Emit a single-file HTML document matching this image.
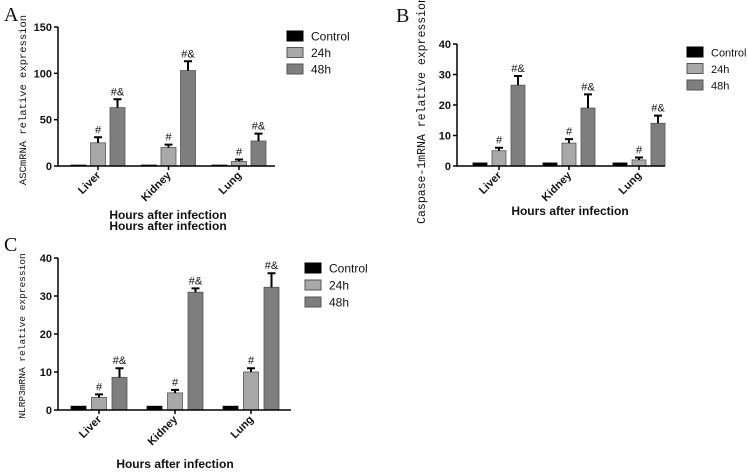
<!DOCTYPE html>
<html><head><meta charset="utf-8"><style>
body{margin:0;background:#fff;}
svg{display:block;}
.tk{font:bold 11px "Liberation Sans",sans-serif;fill:#111;}
.yl{font:11px "Liberation Mono","Noto Serif CJK SC",monospace;fill:#111;}
.lg{font:12px "Liberation Sans",sans-serif;fill:#111;}
.ttl{font:bold 12px "Liberation Sans",sans-serif;fill:#111;}
.pl{font:20px "Liberation Serif",serif;fill:#111;}
.an{font:11px "Liberation Sans",sans-serif;fill:#111;}
</style></head><body>
<svg id="c" width="748" height="472" xmlns="http://www.w3.org/2000/svg"></svg>
<script>
const categories=["Liver","Kidney","Lung"];
const seriesNames=["Control","24h","48h"];
const aValues=[[1,25,63],[1,20,103],[1,5,27]];
const aErrors=[[0,6,9],[0,3,10],[0,2,8]];
const aMarks=[["","#","#&"],["","#","#&"],["","#","#&"]];
const aTicks=[0,50,100,150];
const bValues=[[1,5,26.5],[1,7.5,19],[1,2,14]];
const bErrors=[[0,1,3],[0,1.3,4.5],[0,0.8,2.5]];
const bTicks=[0,10,20,30,40];
const cValues=[[1,3.3,8.6],[1,4.5,31],[1,10,32.3]];
const cErrors=[[0,0.8,2.4],[0,0.8,1],[0,1,3.7]];
const cTicks=[0,10,20,30,40];
const colors=["#000","#a8a8a8","#7e7e7e"];
const NS="http://www.w3.org/2000/svg";
const svg=document.getElementById('c');
function mk(t,a,p){const e=document.createElementNS(NS,t);for(const k in a)e.setAttribute(k,a[k]);(p||svg).appendChild(e);return e;}
function panel(o){
 const g=mk('g',{});
 
 
 const ymax=o.ticks[o.ticks.length-1];
 const Y=v=>o.y0-(v/ymax)*(o.y0-o.y1);
 const X=(i,j)=>o.gx+i*o.gs+j*o.bs;
 o.vals.forEach((row,i)=>row.forEach((v,j)=>{
  const x=X(i,j),y=Y(v);
  const r=mk('rect',{x:x,y:y,width:o.bw,height:o.y0-y,fill:colors[j],stroke:j?'#555':'#000','stroke-width':0.8},g);
  
  
  const e=o.errs[i][j];
  if(e>0){const cx=x+o.bw/2,ye=Y(v+e);
   const l=mk('path',{d:`M${cx} ${y}V${ye}M${cx-4} ${ye}H${cx+4}`,stroke:'#000','stroke-width':2,fill:'none'},g);
   
   }
  const m=aMarks[i][j];
  if(m){const t=mk('text',{x:x+o.bw/2,y:Y(v+e)-4,'text-anchor':'middle',class:'an'},g);t.textContent=m;
   
   }
 }));
 const ax=mk('path',{d:`M${o.ax} ${o.y1}V${o.y0}H${o.xend}`,stroke:'#000','stroke-width':1.5,fill:'none'},g);
 
 
 o.ticks.forEach(t=>{const y=Y(t);
  mk('path',{d:`M${o.ax-4} ${y}H${o.ax}`,stroke:'#000','stroke-width':1.5},g);
  const tx=mk('text',{x:o.ax-6,y:y+4,'text-anchor':'end',class:'tk'},g);tx.textContent=t;
  
  });
 categories.forEach((c,i)=>{const cx=X(i,1)+o.bw/2;
  mk('path',{d:`M${cx} ${o.y0}v4`,stroke:'#000','stroke-width':1.5},g);
  const tx=mk('text',{x:cx+3,y:o.y0+10,'text-anchor':'end',class:'tk',transform:`rotate(-45 ${cx+3} ${o.y0+10})`},g);tx.textContent=c;
  
  });
 const yl=mk('text',{x:o.ylx,y:o.yly,'text-anchor':'middle',class:'yl',transform:`rotate(-90 ${o.ylx} ${o.yly})`},g);
 yl.textContent=o.ylabel;yl.style.fontSize=o.ylf+'px';
 
 
 o.titles.forEach(ty=>{const t=mk('text',{x:o.tx,y:ty,'text-anchor':'middle',class:'ttl'},g);t.textContent='Hours after infection';
  
  });
 const p=mk('text',{x:o.px,y:o.py,class:'pl'},g);p.textContent=o.letter;
 
 
 seriesNames.forEach((s,j)=>{const y=o.ly+j*o.lsp;
  const r=mk('rect',{x:o.lx,y:y-5,width:o.lw,height:10,fill:colors[j],stroke:j?'#555':'#000'},g);
  
  
  const t=mk('text',{x:o.lx+o.lt,y:y+4.5,class:'lg'},g);t.textContent=s;t.style.fontSize=o.lf+'px';
  
  });
}
panel({id:'panel-a',vals:aValues,errs:aErrors,ticks:aTicks,y0:166,y1:27,ax:58,xend:275,gx:71,gs:70.5,bs:19.5,bw:15,
 ylabel:'ASCmRNA relative expression',ylx:26,yly:100,ylf:10.5,tx:168,titles:[219,230],px:4,py:21,letter:'A',lx:287,ly:36,lsp:16.5,lw:16,lt:24,lf:12});
panel({id:'panel-b',vals:bValues,errs:bErrors,ticks:bTicks,y0:166,y1:44,ax:457,xend:665,gx:473,gs:70,bs:19,bw:14,
 ylabel:'Caspase-1mRNA relative expression',ylx:425,yly:110,ylf:11.5,tx:570,titles:[215],px:396,py:22,letter:'B',lx:687,ly:52,lsp:16.5,lw:16,lt:24,lf:11});
panel({id:'panel-c',vals:cValues,errs:cErrors,ticks:cTicks,y0:410,y1:258,ax:58,xend:291,gx:71,gs:76,bs:20.5,bw:15,
 ylabel:'NLRP3mRNA relative expression',ylx:25,yly:336,ylf:9.5,tx:175,titles:[468],px:4,py:251,letter:'C',lx:305,ly:268,lsp:17,lw:16,lt:24,lf:12});
</script>
</body></html>
